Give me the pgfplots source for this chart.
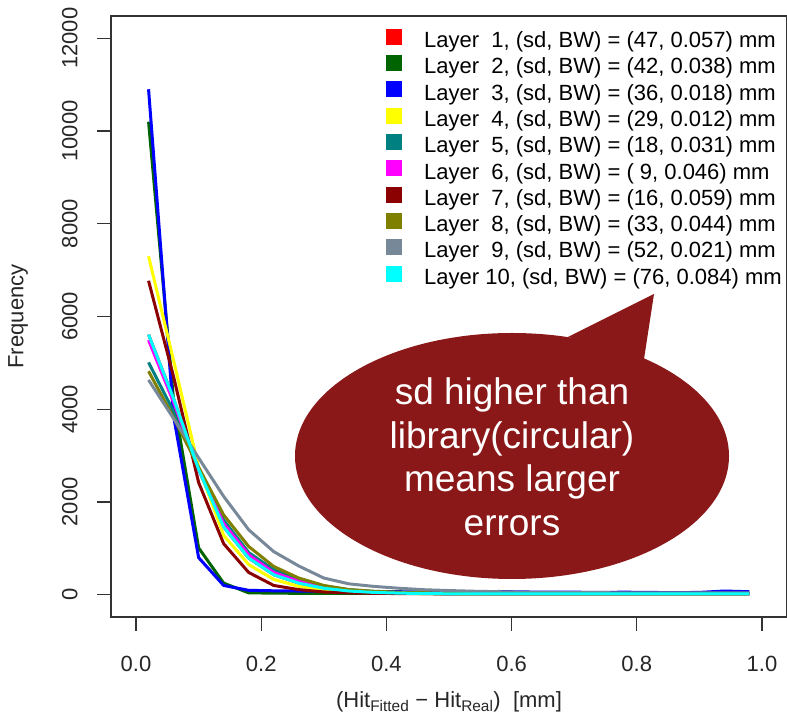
\documentclass[border=0pt]{standalone}
\usepackage{pgfplots}
\usepackage{pgfplotstable}
\pgfplotsset{compat=1.18}
\usepackage{fontspec}
\setmainfont{Liberation Sans}
\definecolor{cA}{RGB}{255,0,0}
\definecolor{cB}{RGB}{0,100,0}
\definecolor{cC}{RGB}{0,0,255}
\definecolor{cD}{RGB}{255,255,0}
\definecolor{cE}{RGB}{0,128,128}
\definecolor{cF}{RGB}{255,0,255}
\definecolor{cG}{RGB}{139,0,0}
\definecolor{cH}{RGB}{128,128,0}
\definecolor{cI}{RGB}{119,136,153}
\definecolor{cJ}{RGB}{0,255,255}
\definecolor{bubble}{RGB}{139,24,24}
\pgfplotstableread{
x     L1    L2    L3    L4    L5    L6    L7    L8    L9    L10
0.02  5610  10200 10900 7300  5010  5490  6770  4820  4630  5610
0.06  4230  4200  3850  5050  3950  4150  4700  3820  3800  4230
0.10  2700  1010  800   2750  2720  2700  2420  2750  2950  2700
0.14  1460  250   200   1280  1610  1540  1100  1720  2120  1460
0.18  790   40    95    650   910   860   480   1040  1400  790
0.22  430   35    85    330   540   480   200   610   930   430
0.26  250   30    80    180   320   290   110   360   620   250
0.30  140   30    75    100   190   170   60    200   360   140
0.34  80    30    70    60    110   100   40    110   235   80
0.38  50    30    65    40    70    60    30    75    180   50
0.42  35    28    65    30    45    40    25    55    140   35
0.46  25    28    60    25    35    30    22    45    108   25
0.50  20    25    60    22    30    25    20    35    90    20
0.54  20    25    65    20    28    25    20    30    75    20
0.58  20    25    70    20    25    25    20    30    65    20
0.62  20    25    60    20    25    25    20    28    55    20
0.66  20    25    55    20    25    25    20    28    50    20
0.70  20    25    55    20    25    25    20    28    45    20
0.74  20    25    50    20    25    25    20    28    45    20
0.78  20    25    55    20    25    25    20    28    40    20
0.82  20    25    50    20    25    25    20    28    40    20
0.86  20    25    45    20    25    25    20    28    40    20
0.90  20    25    50    20    25    25    20    28    40    20
0.94  20    25    80    20    25    25    20    28    40    20
0.98  20    25    65    20    25    25    20    28    40    20
}\datatable
\begin{document}
\begin{tikzpicture}
\path[use as bounding box] (0pt,0pt) rectangle (787pt,719pt);
\begin{axis}[
  at={(111pt,102pt)}, anchor=south west,
  scale only axis, width=676pt, height=601pt,
  xmin=-0.04, xmax=1.04, ymin=-480, ymax=12480,
  axis line style={line width=1.3pt, black!80},
  xtick={0,0.2,0.4,0.6,0.8,1.0},
  ytick={0,2000,4000,6000,8000,10000,12000},
  tick align=outside, major tick length=14pt,
  every tick/.style={line width=1.3pt, black!80},
  xtick pos=bottom, ytick pos=left,
  tick label style={font=\fontsize{22}{26}\selectfont, text=black!85},
  /pgf/number format/assume math mode=true,
  /pgf/number format/1000 sep={},
  scaled y ticks=false, scaled x ticks=false,
  xticklabel style={yshift=-22pt, /pgf/number format/.cd, fixed, fixed zerofill, precision=1},
  yticklabel style={xshift=-16pt, rotate=90, anchor=south},
  xlabel={(Hit\textsubscript{Fitted} − Hit\textsubscript{Real})\ \ [mm]},
  ylabel={Frequency},
  label style={font=\fontsize{22}{26}\selectfont, text=black!85},
  xlabel style={at={(axis description cs:0.5,-0.141)}, anchor=center},
  ylabel style={at={(axis description cs:-0.1376,0.5)}, anchor=center, rotate=0},
  legend cell align=left,
  legend style={draw=none, fill=none, inner sep=0pt,
    at={(axis description cs:0.4068,0.979)}, anchor=north west,
    font=\fontsize{22}{24.6}\selectfont, row sep=0pt,
    nodes={inner ysep=0pt, text height=17pt, text depth=7.6pt}},
  legend image code/.code={\fill[#1, draw=none] (0pt,-2pt) rectangle (16pt,14pt); \path[draw=none, fill=none] (0pt,6pt) -- (36pt,6pt);},
  every axis plot/.append style={line width=3pt, line join=round},
]
\addplot[cA] table[x=x, y=L1] {\datatable};
\addlegendentry{Layer~~1, (sd, BW) = (47, 0.057) mm}
\addplot[cB] table[x=x, y=L2] {\datatable};
\addlegendentry{Layer~~2, (sd, BW) = (42, 0.038) mm}
\addplot[cC] table[x=x, y=L3] {\datatable};
\addlegendentry{Layer~~3, (sd, BW) = (36, 0.018) mm}
\addplot[cD] table[x=x, y=L4] {\datatable};
\addlegendentry{Layer~~4, (sd, BW) = (29, 0.012) mm}
\addplot[cE] table[x=x, y=L5] {\datatable};
\addlegendentry{Layer~~5, (sd, BW) = (18, 0.031) mm}
\addplot[cF] table[x=x, y=L6] {\datatable};
\addlegendentry{Layer~~6, (sd, BW) = (~9, 0.046) mm}
\addplot[cG] table[x=x, y=L7] {\datatable};
\addlegendentry{Layer~~7, (sd, BW) = (16, 0.059) mm}
\addplot[cH] table[x=x, y=L8] {\datatable};
\addlegendentry{Layer~~8, (sd, BW) = (33, 0.044) mm}
\addplot[cI] table[x=x, y=L9] {\datatable};
\addlegendentry{Layer~~9, (sd, BW) = (52, 0.021) mm}
\addplot[cJ] table[x=x, y=L10] {\datatable};
\addlegendentry{Layer 10, (sd, BW) = (76, 0.084) mm}
\end{axis}
\fill[bubble] (512pt,263pt) ellipse [x radius=217pt, y radius=123pt];
\fill[bubble] (568pt,382pt) -- (654pt,425pt) -- (644pt,360pt) -- cycle;
\node[text=white, align=center, font=\fontsize{37}{43.5}\selectfont, inner sep=0pt]
  at (512pt,262pt) {sd higher than\\library(circular)\\means larger\\errors};
\end{tikzpicture}
\end{document}
